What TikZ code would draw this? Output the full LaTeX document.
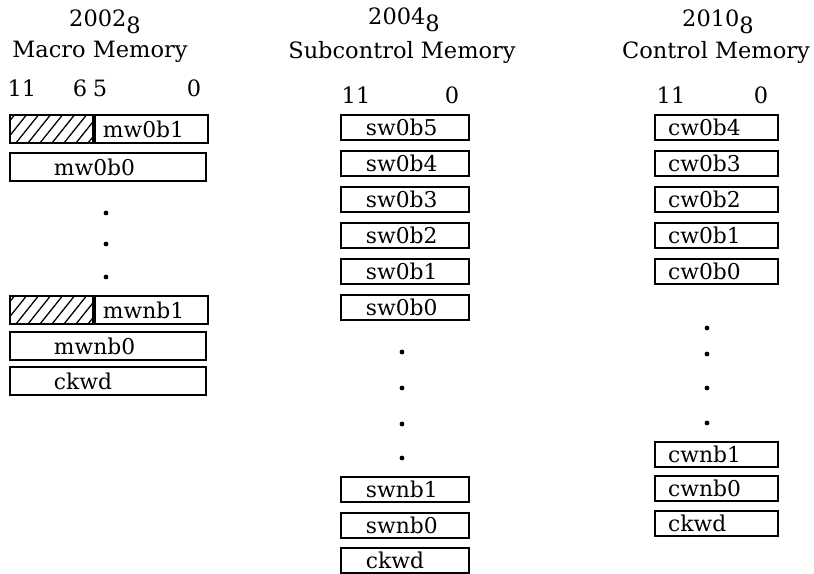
\documentclass[tikz,border=0pt]{standalone}
\usepackage{fontspec}
\setmainfont{DejaVu Serif}
\usetikzlibrary{positioning}
\tikzset{
    word/.style={
        draw, line width=1.4pt, anchor=north west,
        inner ysep=0pt, align=left, font=\wordfont
    },
    macw/.style={word, minimum height=0.7cm, inner xsep=1.1cm, text width=2.7cm},
    subw/.style={word, minimum height=0.625cm, inner xsep=0.625cm, text width=1.95cm},
    ctlw/.style={word, minimum height=0.625cm, inner xsep=0.33cm, text width=2.415cm},
    hatch/.style={
        draw, line width=1.4pt, anchor=north west, inner sep=0pt,
        minimum width=2.075cm, minimum height=0.7cm,
        path picture={
            \foreach \k in {-1,...,8}
                \draw[line width=0.9pt] ([xshift=\k*0.3cm-0.45cm]path picture bounding box.south west)
                    -- ++(0.6cm,0.75cm);
        }
    },
    title/.style={font=\titlefont},
    bit/.style={font=\titlefont},
    ellip/.style={circle, fill, inner sep=0pt, minimum size=3.4pt}
}
\newcommand{\wordfont}{\fontsize{15.5}{18}\selectfont}
\newcommand{\titlefont}{\fontsize{16}{19}\selectfont}
\newcommand{\oct}{\raisebox{-0.55ex}{8}}
\begin{document}
\begin{tikzpicture}[x=0.025cm, y=-0.025cm]
    \useasboundingbox (0,0) rectangle (814,573);

    % Macro memory
    \node[title] (mtop) at (105,22) {2002\oct};
    \node[title] (mname) at (100,52) {Macro Memory};
    \node[bit] (m11) at (22,88) {11};
    \node[bit] (m6) at (80,88) {6};
    \node[bit] (m5) at (100,88) {5};
    \node[bit] (m0) at (194,88) {0};
    \node[hatch] (mw0h) at (9,114) {};
    \node[word, minimum height=0.7cm, inner xsep=0.2cm, text width=2.425cm] (mw0b1) at (mw0h.north east) {mw0b1};
    \node[macw] (mw0b0) at (9,152) {mw0b0};
    \node[ellip] (md1) at (106,213) {};
    \node[ellip] (md2) at (106,244) {};
    \node[ellip] (md3) at (106,277) {};
    \node[hatch] (mwnh) at (9,295) {};
    \node[word, minimum height=0.7cm, inner xsep=0.2cm, text width=2.425cm] (mwnb1) at (mwnh.north east) {mwnb1};
    \node[macw] (mwnb0) at (9,331) {mwnb0};
    \node[macw] (mckwd) at (9,366) {ckwd};

    % Subcontrol memory
    \node[title] (stop) at (404,20) {2004\oct};
    \node[title] (sname) at (402,52) {Subcontrol Memory};
    \node[bit] (s11) at (356,95) {11};
    \node[bit] (s0) at (452,95) {0};
    \node[subw] (sw0b5) at (340,114) {sw0b5};
    \node[subw] (sw0b4) at (340,150) {sw0b4};
    \node[subw] (sw0b3) at (340,186) {sw0b3};
    \node[subw] (sw0b2) at (340,222) {sw0b2};
    \node[subw] (sw0b1) at (340,258) {sw0b1};
    \node[subw] (sw0b0) at (340,294) {sw0b0};
    \node[ellip] (sd1) at (402,352) {};
    \node[ellip] (sd2) at (402,388) {};
    \node[ellip] (sd3) at (402,424) {};
    \node[ellip] (sd4) at (402,458) {};
    \node[subw] (swnb1) at (340,476) {swnb1};
    \node[subw] (swnb0) at (340,512) {swnb0};
    \node[subw] (sckwd) at (340,547) {ckwd};

    % Control memory
    \node[title] (ctop) at (718,22) {2010\oct};
    \node[title] (cname) at (716,52) {Control Memory};
    \node[bit] (c11) at (671,95) {11};
    \node[bit] (c0) at (761,95) {0};
    \node[ctlw] (cw0b4) at (654,114) {cw0b4};
    \node[ctlw] (cw0b3) at (654,150) {cw0b3};
    \node[ctlw] (cw0b2) at (654,186) {cw0b2};
    \node[ctlw] (cw0b1) at (654,222) {cw0b1};
    \node[ctlw] (cw0b0) at (654,258) {cw0b0};
    \node[ellip] (cd1) at (707,328) {};
    \node[ellip] (cd2) at (707,354) {};
    \node[ellip] (cd3) at (707,388) {};
    \node[ellip] (cd4) at (707,423) {};
    \node[ctlw] (cwnb1) at (654,441) {cwnb1};
    \node[ctlw] (cwnb0) at (654,475) {cwnb0};
    \node[ctlw] (cckwd) at (654,510) {ckwd};

\end{tikzpicture}
\end{document}
